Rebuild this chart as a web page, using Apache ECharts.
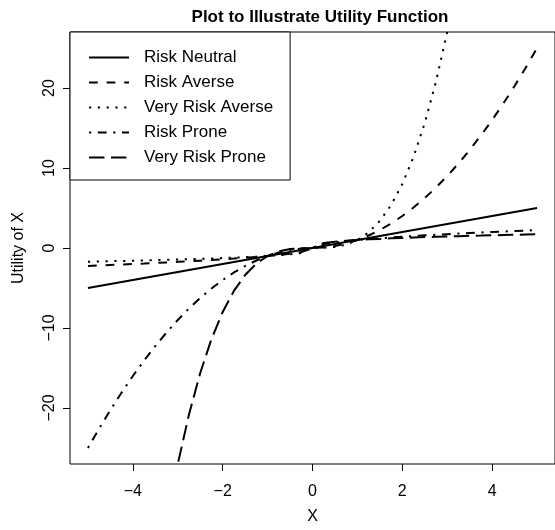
<!DOCTYPE html>
<html>
<head>
<meta charset="utf-8">
<script src="https://cdn.jsdelivr.net/npm/echarts@6/dist/echarts.min.js"></script>
<style>html,body{margin:0;padding:0;background:#fff;}#c{width:555px;height:530px;}</style>
</head>
<body>
<div id="c"></div>
<script>
const xValues = [-5,-4.75,-4.5,-4.25,-4,-3.75,-3.5,-3.25,-3,-2.75,-2.5,-2.25,-2,-1.75,-1.5,-1.25,-1,-0.75,-0.5,-0.25,0,0.25,0.5,0.75,1,1.25,1.5,1.75,2,2.25,2.5,2.75,3,3.25,3.5,3.75,4,4.25,4.5,4.75,5];
const riskNeutral = [-5,-4.75,-4.5,-4.25,-4,-3.75,-3.5,-3.25,-3,-2.75,-2.5,-2.25,-2,-1.75,-1.5,-1.25,-1,-0.75,-0.5,-0.25,0,0.25,0.5,0.75,1,1.25,1.5,1.75,2,2.25,2.5,2.75,3,3.25,3.5,3.75,4,4.25,4.5,4.75,5];
const riskAverse = [-2.24,-2.18,-2.12,-2.06,-2,-1.94,-1.87,-1.8,-1.73,-1.66,-1.58,-1.5,-1.41,-1.32,-1.22,-1.12,-1,-0.87,-0.71,-0.5,0,0.06,0.25,0.56,1,1.56,2.25,3.06,4,5.06,6.25,7.56,9,10.56,12.25,14.06,16,18.06,20.25,22.56,25];
const veryRiskAverse = [-1.71,-1.68,-1.65,-1.62,-1.59,-1.55,-1.52,-1.48,-1.44,-1.4,-1.36,-1.31,-1.26,-1.21,-1.14,-1.08,-1,-0.91,-0.79,-0.63,0,0.02,0.13,0.42,1,1.95,3.38,5.36,8,11.39,15.63,20.8,27,34.33,42.88,52.73,64,76.77,91.13,107.17,125];
const riskProne = [-25,-22.56,-20.25,-18.06,-16,-14.06,-12.25,-10.56,-9,-7.56,-6.25,-5.06,-4,-3.06,-2.25,-1.56,-1,-0.56,-0.25,-0.06,0,0.5,0.71,0.87,1,1.12,1.22,1.32,1.41,1.5,1.58,1.66,1.73,1.8,1.87,1.94,2,2.06,2.12,2.18,2.24];
const veryRiskProne = [-125,-107.17,-91.13,-76.77,-64,-52.73,-42.88,-34.33,-27,-20.8,-15.63,-11.39,-8,-5.36,-3.38,-1.95,-1,-0.42,-0.13,-0.02,0,0.63,0.79,0.91,1,1.08,1.14,1.21,1.26,1.31,1.36,1.4,1.44,1.48,1.52,1.55,1.59,1.62,1.65,1.68,1.71];
const seriesNames = ['Risk Neutral','Risk Averse','Very Risk Averse','Risk Prone','Very Risk Prone'];
const xTicks = [-4,-2,0,2,4];
const yTicks = [-20,-10,0,10,20];

const FONT = '"Liberation Sans", Arial, Helvetica, sans-serif';
const dashTypes = ['solid',[8.8,8.8],[2.2,6.6],[2.2,6.6,8.8,6.6],[15.4,6.6]];
const allY = [riskNeutral, riskAverse, veryRiskAverse, riskProne, veryRiskProne];
const fmt = v => String(v).replace('-', '\u2212');

const chart = echarts.init(document.getElementById('c'), null, {renderer:'canvas'});
chart.setOption({
  animation: false,
  backgroundColor: '#fff',
  title: {
    text: 'Plot to Illustrate Utility Function',
    left: 315, top: 4, textAlign: 'center',
    textStyle: {fontFamily: FONT, fontSize: 17, fontWeight: 'bold', color: '#000'}
  },
  legend: {
    data: seriesNames,
    orient: 'vertical',
    left: 70, top: 32,
    padding: [17, 17, 14, 18],
    itemWidth: 40, itemHeight: 14, itemGap: 8,
    borderColor: '#000', borderWidth: 1,
    backgroundColor: '#fff',
    borderRadius: 0,
    selectedMode: false,
    itemStyle: {color: 'transparent', borderColor: 'transparent', borderWidth: 0, opacity: 0},
    textStyle: {fontFamily: FONT, fontSize: 17, lineHeight: 14, color: '#000', padding: [0,0,0,10]}
  },
  grid: {
    left: 70, top: 32, width: 490, height: 437,
    show: true, borderColor: '#000', borderWidth: 1, backgroundColor: 'transparent'
  },
  xAxis: {
    type: 'value', min: -5.4, max: 5.4,
    name: 'X', nameLocation: 'middle', nameGap: 45,
    nameTextStyle: {fontFamily: FONT, fontSize: 16, color: '#000'},
    axisLine: {show: false, onZero: false},
    splitLine: {show: false},
    axisTick: {show: true, length: 7, inside: false, customValues: xTicks, lineStyle: {color: '#000'}},
    axisLabel: {customValues: xTicks, formatter: fmt, margin: 20, fontFamily: FONT, fontSize: 16, color: '#000'}
  },
  yAxis: {
    type: 'value', min: -27, max: 27,
    name: 'Utility of X', nameLocation: 'middle', nameGap: 43,
    nameTextStyle: {fontFamily: FONT, fontSize: 16, color: '#000'},
    axisLine: {show: false, onZero: false},
    splitLine: {show: false},
    axisTick: {show: true, length: 7, inside: false, customValues: yTicks, lineStyle: {color: '#000'}},
    axisLabel: {customValues: yTicks, formatter: fmt, rotate: 90, margin: 12, fontFamily: FONT, fontSize: 16, color: '#000'}
  },
  series: seriesNames.map((name, k) => ({
    name: name,
    type: 'line',
    symbol: 'none',
    showSymbol: false,
    clip: true,
    z: 2,
    lineStyle: {color: '#000', width: 2, type: dashTypes[k], cap: 'butt'},
    itemStyle: {color: '#000'},
    data: xValues.map((x, i) => [x, allY[k][i]])
  }))
});
</script>
</body>
</html>
